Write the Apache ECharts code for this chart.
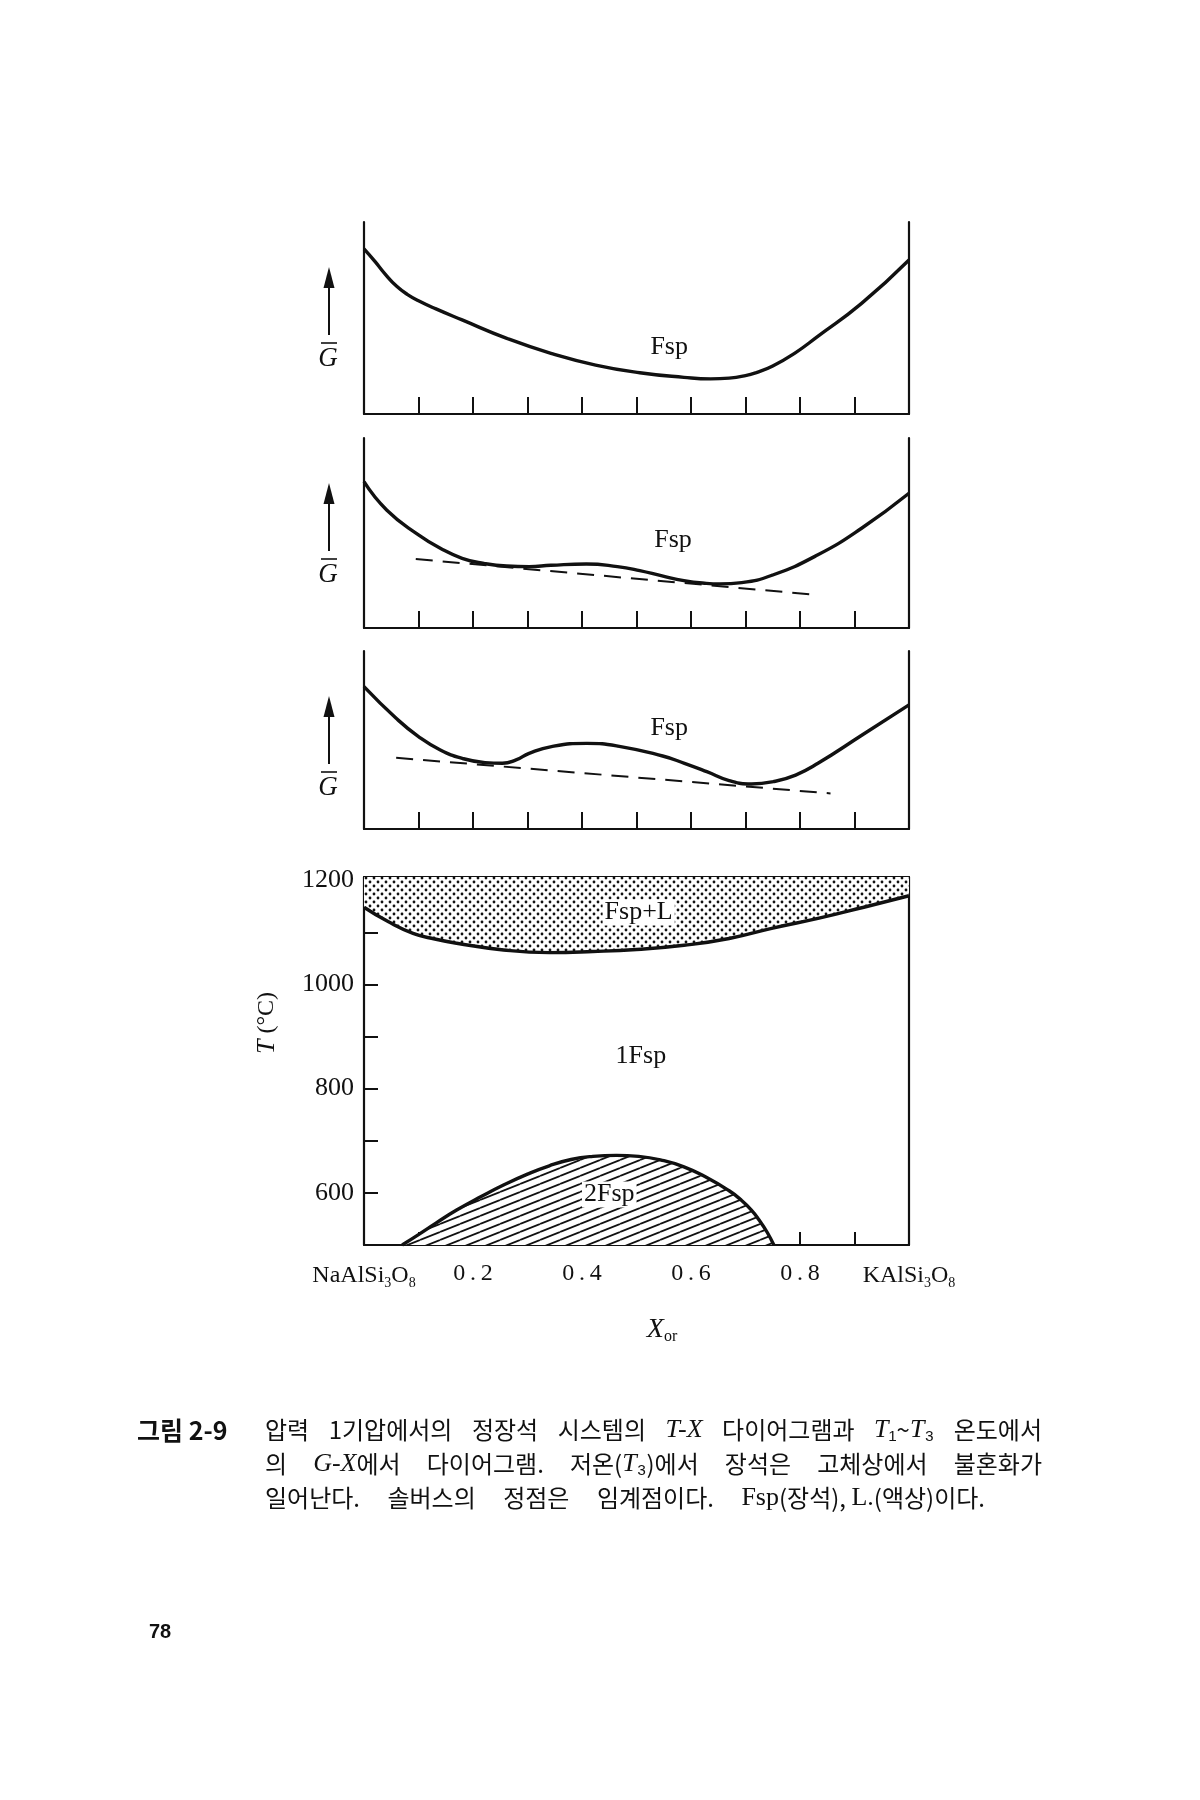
<!DOCTYPE html>
<html><head><meta charset="utf-8">
<script src="https://cdn.jsdelivr.net/npm/echarts@6/dist/echarts.min.js"></script>
<style>html,body{margin:0;padding:0;background:#fff}#c{width:1200px;height:1800px}</style>
</head><body><div id="c"></div>
<script>
// ---------- data ----------
// G-X curves (arbitrary G units 0-100 per panel), x = X_or
const g1 = [[0,86],[0.02,79.5],[0.04,72.5],[0.06,66.5],[0.08,62.2],[0.10,59],[0.13,55],[0.18,49],[0.262,39.4],[0.343,31.6],[0.425,25.5],[0.506,21.5],[0.587,19.1],[0.636,18.3],[0.67,18.7],[0.70,20.0],[0.72,21.6],[0.75,25],[0.79,31.6],[0.832,40.3],[0.913,57.6],[1.0,80.2]];
const g2 = [[0,77],[0.042,62],[0.10,49],[0.14,42],[0.18,36.7],[0.22,34],[0.262,32.6],[0.303,32.3],[0.343,33],[0.408,33.7],[0.465,32.3],[0.506,30.2],[0.547,27.4],[0.587,24.9],[0.628,23.5],[0.653,23.2],[0.693,23.9],[0.75,27.9],[0.832,38.4],[0.913,52.5],[1.0,70.9]];
const tangent2 = [[0.095,36.3],[0.82,17.7]];
const g3 = [[0,80],[0.059,62.2],[0.10,51.9],[0.14,44.4],[0.18,39.7],[0.222,37.3],[0.254,36.9],[0.279,38.8],[0.303,42.5],[0.344,46.3],[0.409,48.1],[0.466,46.6],[0.548,41],[0.588,36.9],[0.629,32.2],[0.67,27.2],[0.711,25.3],[0.751,26.6],[0.792,30.3],[0.833,36.9],[0.914,52.8],[1.0,69.7]];
const tangent3 = [[0.059,40],[0.856,20]];
// T-X diagram (°C)
const solidus = [[0,1148],[0.045,1120],[0.09,1098],[0.13,1087],[0.17,1079],[0.256,1066],[0.34,1061],[0.42,1063],[0.50,1067],[0.587,1075],[0.67,1088],[0.75,1108],[0.835,1127],[0.917,1148],[1,1170]];
const solvus = [[0.07,500],[0.10,520],[0.132,542],[0.17,567],[0.215,593],[0.256,615],[0.30,636],[0.34,652],[0.38,664],[0.42,670],[0.463,672],[0.504,670],[0.545,663],[0.587,650],[0.628,630],[0.67,604],[0.69,588],[0.71,568],[0.725,548],[0.74,524],[0.752,500]];
// region / curve labels [x, y, text]
const labels1 = [[0.56,35,'Fsp']];
const labels2 = [[0.567,46,'Fsp']];
const labels3 = [[0.56,56.7,'Fsp']];
const labels4 = [[0.504,1138,'Fsp+L'],[0.508,862,'1Fsp'],[0.45,597,'2Fsp']];
// tick labels
const xTickLabels = {0:'{m|NaAlSi}{s|3}{m|O}{s|8}', 2:'0.2', 4:'0.4', 6:'0.6', 8:'0.8', 10:'{m|KAlSi}{s|3}{m|O}{s|8}'};
const tempTickLabels = [600, 800, 1000, 1200];
// caption words per line
const captionLines = [
  ['압력','1기압에서의','정장석','시스템의','{i|T-X}','다이어그램과','{i|T}₁~{i|T}₃','온도에서'],
  ['의','{i|G-X}에서','다이어그램.','저온({i|T}₃)에서','장석은','고체상에서','불혼화가'],
  ['일어난다.','솔버스의','정점은','임계점이다.','{n|Fsp}(장석), {n|L.}(액상)이다.']
];
const captionRight = [1042, 1042, 985];

// ---------- patterns ----------
function dotPattern(){
  const S=8;
  const c=document.createElement('canvas'); c.width=S; c.height=S;
  const g=c.getContext('2d'); g.fillStyle='#fff'; g.fillRect(0,0,S,S);
  g.fillStyle='#111';
  [[2,2],[6,6]].forEach(p=>{g.beginPath();g.arc(p[0],p[1],1.4,0,Math.PI*2);g.fill();});
  return c;
}
function hatchPattern(){
  const W=20,H=8;
  const c=document.createElement('canvas'); c.width=W; c.height=H;
  const g=c.getContext('2d'); g.fillStyle='#fff'; g.fillRect(0,0,W,H);
  g.strokeStyle='#111'; g.lineWidth=1.8;
  [-H,0,H].forEach(o=>{g.beginPath();g.moveTo(0,H+o);g.lineTo(W,o);g.stroke();});
  return c;
}

const INK='#111';
const SERIF='"Liberation Serif", "DejaVu Serif", serif';
const CJK='"Noto Sans CJK KR", sans-serif';
const grids=[
  {left:364,width:545,top:222,height:192},
  {left:364,width:545,top:438,height:190},
  {left:364,width:545,top:651,height:178},
  {left:364,width:545,top:877,height:368}
];
const line = {show:true,onZero:false,lineStyle:{color:INK,width:2.2}};
const xAxes=[], yAxes=[];
for(let i=0;i<3;i++){
  xAxes.push({gridIndex:i,type:'value',min:0,max:1,interval:0.1,axisLine:line,
    axisTick:{show:true,inside:true,length:17,lineStyle:{color:INK,width:2}},
    axisLabel:{show:false},splitLine:{show:false}});
}
xAxes.push({gridIndex:3,type:'value',min:0,max:1,interval:0.1,axisLine:line,
  axisTick:{show:true,inside:true,length:13,lineStyle:{color:INK,width:2}},
  axisLabel:{show:true,margin:17,color:INK,fontFamily:SERIF,fontSize:24,showMinLabel:true,showMaxLabel:true,hideOverlap:false,
    formatter:v=>{const k=Math.round(v*10);return xTickLabels[k]!==undefined?xTickLabels[k].replace(/^0\.(\d)$/,'0\u2009.\u2009$1'):'';},
    rich:{m:{fontFamily:SERIF,fontSize:24,color:INK,lineHeight:28},s:{fontFamily:SERIF,fontSize:14,color:INK,verticalAlign:'bottom',lineHeight:16}}},
  splitLine:{show:false}});
xAxes.push({gridIndex:3,type:'value',position:'top',min:0,max:1,axisLine:line,axisTick:{show:false},axisLabel:{show:false},splitLine:{show:false}});
for(let i=0;i<3;i++){
  yAxes.push({gridIndex:i,type:'value',min:0,max:100,axisLine:line,axisTick:{show:false},axisLabel:{show:false},splitLine:{show:false}});
}
yAxes.push({gridIndex:3,type:'value',min:500,max:1206,interval:100,axisLine:line,
  axisTick:{show:true,inside:true,length:14,lineStyle:{color:INK,width:2}},
  axisLabel:{show:true,margin:10,color:INK,fontFamily:SERIF,fontSize:26,showMaxLabel:false,
    formatter:v=>tempTickLabels.indexOf(v)>=0?String(v):''},
  splitLine:{show:false}});
for(let i=0;i<4;i++){
  yAxes.push({gridIndex:i,type:'value',position:'right',min:i<3?0:500,max:i<3?100:1206,axisLine:line,axisTick:{show:false},axisLabel:{show:false},splitLine:{show:false}});
}

const curve=(xi,data,extra)=>Object.assign({type:'line',xAxisIndex:xi,yAxisIndex:xi,data:data,smooth:0.5,symbol:'none',
  lineStyle:{color:INK,width:3.4},silent:true,animation:false},extra||{});
const dashed=(xi,data)=>({type:'line',xAxisIndex:xi,yAxisIndex:xi,data:data,symbol:'none',
  lineStyle:{color:INK,width:2,type:[17,10]},silent:true,animation:false});
const labelSeries=(xi,data,bg)=>({type:'scatter',xAxisIndex:xi,yAxisIndex:xi,data:data,symbolSize:0,z:10,silent:true,animation:false,
  label:{show:true,position:'inside',formatter:p=>p.data[2],color:INK,fontFamily:SERIF,fontSize:26,
    textBorderWidth:0,textShadowBlur:0,opacity:1,
    backgroundColor:bg?'#fff':'transparent',padding:bg?[0,2]:0}});

const series=[
  curve(0,g1), labelSeries(0,labels1,false),
  curve(1,g2), dashed(1,tangent2), labelSeries(1,labels2,false),
  curve(2,g3), dashed(2,tangent3), labelSeries(2,labels3,false),
  curve(3,solidus,{areaStyle:{origin:'end',opacity:1,color:{image:dotPattern(),repeat:'repeat'}}}),
  curve(3,solvus,{areaStyle:{origin:'start',opacity:1,color:{image:hatchPattern(),repeat:'repeat'}}}),
  labelSeries(3,labels4,true)
];

// ---------- decorations: G-bar arrows, axis titles, caption ----------
const graphic=[];
[222,438,651].forEach(t=>{
  graphic.push({type:'polygon',shape:{points:[[329,t+45],[323.5,t+66],[334.5,t+66]]},style:{fill:INK}});
  graphic.push({type:'line',shape:{x1:329,y1:t+60,x2:329,y2:t+113},style:{stroke:INK,lineWidth:2}});
  graphic.push({type:'line',shape:{x1:321,y1:t+121,x2:337,y2:t+121},style:{stroke:INK,lineWidth:1.6}});
  graphic.push({type:'text',x:328,y:t+137,style:{text:'G',font:'italic 27px '+SERIF,fill:INK,align:'center',verticalAlign:'middle'}});
});
graphic.push({type:'text',x:267,y:1023,rotation:Math.PI/2,style:{text:'{i|T} (°C)',align:'center',verticalAlign:'middle',
  rich:{i:{fontFamily:SERIF,fontStyle:'italic',fontSize:26,fill:INK}},font:'24px '+SERIF,fill:INK}});
graphic.push({type:'text',x:662,y:1330,style:{text:'{i|X}{s|or}',align:'center',verticalAlign:'middle',
  rich:{i:{fontFamily:SERIF,fontStyle:'italic',fontSize:28,fill:INK,lineHeight:30},s:{fontFamily:SERIF,fontSize:16,fill:INK,verticalAlign:'bottom',lineHeight:18}}}});

// caption: words spread to the justified line width
const capFonts={_:'24px '+CJK,i:'italic 26px '+SERIF,n:'26px '+SERIF};
const capRich={i:{fontFamily:SERIF,fontStyle:'italic',fontSize:26,fill:INK},n:{fontFamily:SERIF,fontSize:26,fill:INK}};
const mctx=document.createElement('canvas').getContext('2d');
function measure(s){
  let w=0; const re=/\{(\w)\|([^}]*)\}/g; let last=0, m;
  while((m=re.exec(s))){ if(m.index>last){mctx.font=capFonts._; w+=mctx.measureText(s.slice(last,m.index)).width;}
    mctx.font=capFonts[m[1]]; w+=mctx.measureText(m[2]).width; last=re.lastIndex; }
  if(last<s.length){mctx.font=capFonts._; w+=mctx.measureText(s.slice(last)).width;}
  return w;
}
graphic.push({type:'text',x:137,y:1430,style:{text:'그림 2-9',font:'bold 25px '+CJK,fill:INK,verticalAlign:'middle'}});
captionLines.forEach((words,k)=>{
  const ws=words.map(measure); const total=ws.reduce((a,b)=>a+b,0);
  const gap=(captionRight[k]-265-total)/(words.length-1);
  let x=265;
  words.forEach((w,j)=>{
    graphic.push({type:'text',x:x,y:1430+34*k,style:{text:w,font:capFonts._,fill:INK,verticalAlign:'middle',rich:capRich}});
    x+=ws[j]+gap;
  });
});
graphic.push({type:'text',x:149,y:1632,style:{text:'78',font:'bold 20px "Liberation Sans", sans-serif',fill:INK,verticalAlign:'middle'}});

const chart=echarts.init(document.getElementById('c'),null,{renderer:'canvas'});
chart.setOption({backgroundColor:'#fff',animation:false,grid:grids,xAxis:xAxes,yAxis:yAxes,series:series,graphic:graphic});
</script></body></html>
